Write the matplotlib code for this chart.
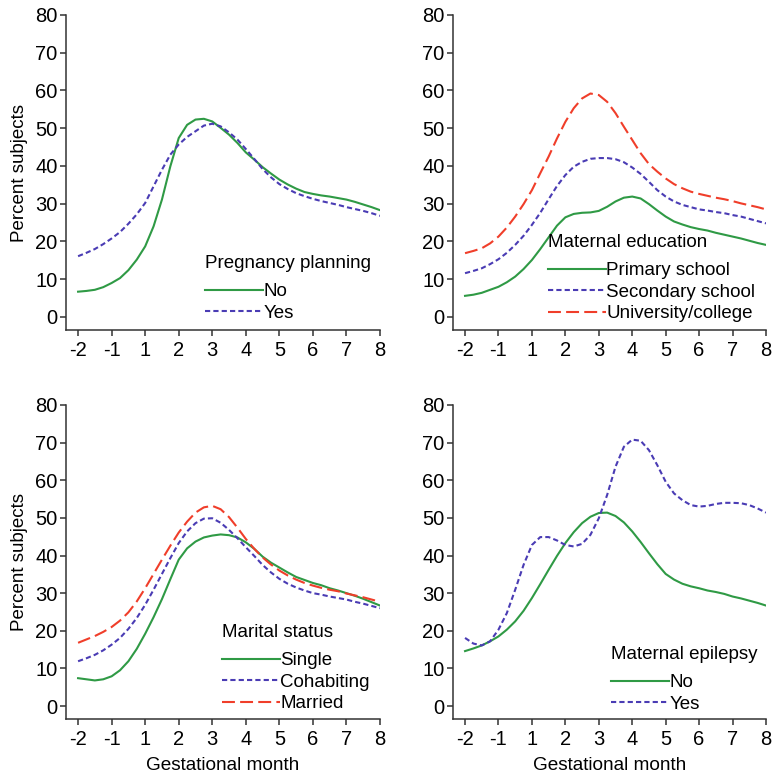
import matplotlib
matplotlib.use("Agg")
import matplotlib.pyplot as plt

plt.rcParams['font.family'] = ['Liberation Sans', 'DejaVu Sans']

# x positions (categorical axis: -2,-1,1,...,8 placed evenly, read every quarter step)
tick_labels = ['-2', '-1', '1', '2', '3', '4', '5', '6', '7', '8']
x_pos = [0, 0.25, 0.5, 0.75, 1, 1.25, 1.5, 1.75, 2, 2.25, 2.5, 2.75, 3, 3.25,
         3.5, 3.75, 4, 4.25, 4.5, 4.75, 5, 5.25, 5.5, 5.75, 6, 6.25, 6.5, 6.75,
         7, 7.25, 7.5, 7.75, 8, 8.25, 8.5, 8.75, 9]

# Panel 1: Pregnancy planning
plan_no = [6.7, 6.9, 7.2, 7.9, 9.0, 10.3, 12.4, 15.2, 18.7, 24.0, 31.1, 39.9, 47.4,
           50.9, 52.3, 52.5, 51.8, 50.1, 48.3, 46.1, 43.6, 41.7, 39.7, 38.0, 36.4, 35.1,
           34.0, 33.1, 32.6, 32.2, 31.9, 31.5, 31.1, 30.5, 29.8, 29.1, 28.3]
plan_yes = [16.1, 17.0, 18.0, 19.3, 20.8, 22.5, 24.7, 27.2, 30.2, 34.6, 39.0, 43.0, 45.7,
            47.7, 49.2, 50.7, 51.2, 50.5, 48.9, 47.0, 44.5, 41.9, 39.2, 37.0, 35.2, 33.9,
            32.8, 32.0, 31.3, 30.7, 30.2, 29.7, 29.1, 28.6, 28.1, 27.5, 26.8]

# Panel 2: Maternal education
edu_primary = [5.6, 5.9, 6.4, 7.2, 8.0, 9.2, 10.7, 12.7, 15.1, 18.0, 21.1, 24.2, 26.4,
               27.3, 27.6, 27.7, 28.1, 29.2, 30.6, 31.6, 31.9, 31.4, 29.9, 28.2, 26.6,
               25.3, 24.5, 23.8, 23.3, 22.9, 22.3, 21.8, 21.3, 20.8, 20.2, 19.6, 19.1]
edu_secondary = [11.6, 12.2, 12.9, 14.0, 15.3, 17.0, 19.1, 21.5, 24.4, 27.6, 31.2, 34.7,
                 37.6, 39.8, 41.1, 41.9, 42.1, 42.1, 41.8, 41.0, 39.6, 37.9, 35.8, 33.6,
                 31.9, 30.6, 29.7, 29.1, 28.5, 28.2, 27.8, 27.5, 27.0, 26.6, 26.0, 25.4,
                 24.8]
edu_university = [16.9, 17.5, 18.2, 19.5, 21.3, 23.7, 26.6, 29.9, 33.6, 38.1, 42.5, 47.3,
                  51.7, 55.3, 57.9, 59.2, 58.8, 57.0, 54.0, 50.4, 46.9, 43.4, 40.5, 38.5,
                  36.7, 35.2, 34.1, 33.2, 32.6, 32.1, 31.6, 31.2, 30.7, 30.1, 29.6, 29.1,
                  28.5]

# Panel 3: Marital status
mar_single = [7.4, 7.1, 6.8, 7.1, 7.9, 9.5, 11.9, 15.2, 19.2, 23.6, 28.4, 33.7, 38.9,
              41.9, 43.7, 44.8, 45.3, 45.6, 45.4, 44.8, 43.5, 41.8, 39.7, 38.1, 36.8,
              35.5, 34.3, 33.5, 32.7, 32.1, 31.3, 30.7, 30.0, 29.3, 28.5, 27.6, 26.7]
mar_cohab = [11.9, 12.7, 13.6, 14.8, 16.3, 18.1, 20.5, 23.4, 26.9, 30.9, 35.1, 39.3, 43.3,
             46.4, 48.6, 49.8, 49.9, 48.7, 46.8, 44.6, 42.2, 39.9, 37.5, 35.5, 33.8, 32.5,
             31.5, 30.7, 30.0, 29.6, 29.1, 28.7, 28.3, 27.7, 27.2, 26.6, 26.0]
mar_married = [16.8, 17.7, 18.6, 19.7, 21.0, 22.7, 24.9, 27.8, 31.3, 35.1, 38.9, 42.6,
               46.1, 49.0, 51.4, 52.8, 53.2, 52.3, 50.2, 47.4, 44.4, 41.8, 39.5, 37.6,
               36.0, 34.7, 33.6, 32.7, 32.0, 31.4, 30.9, 30.5, 29.9, 29.4, 28.9, 28.3,
               27.7]

# Panel 4: Maternal epilepsy
epi_no = [14.6, 15.3, 16.1, 17.2, 18.5, 20.3, 22.5, 25.3, 28.7, 32.4, 36.2, 39.9, 43.3,
          46.2, 48.6, 50.3, 51.3, 51.4, 50.5, 48.8, 46.4, 43.6, 40.6, 37.7, 35.1, 33.6,
          32.5, 31.8, 31.3, 30.7, 30.3, 29.8, 29.1, 28.6, 28.0, 27.4, 26.7]
epi_yes = [18.1, 16.6, 16.1, 17.2, 20.3, 24.7, 30.9, 37.5, 42.8, 44.9, 44.9, 44.0, 42.8,
           42.4, 43.1, 45.5, 49.9, 56.1, 63.6, 68.9, 70.8, 70.5, 68.0, 64.0, 59.6, 56.5,
           54.7, 53.4, 53.0, 53.2, 53.7, 54.0, 54.0, 53.9, 53.4, 52.5, 51.4]

GREEN = '#2f9a45'
BLUE = '#4a3cb4'
RED = '#f03e2a'
LW = 1.5
STY = {
    'solid': dict(color=GREEN, lw=LW, linestyle='-'),
    'short': dict(color=BLUE, lw=LW, linestyle=(0, (2.5, 1.5))),
    'long': dict(color=RED, lw=LW, linestyle=(0, (6.2, 2.5))),
}

panels = [
    dict(rect=[66, 15, 380, 330], title='Pregnancy planning',
         series=[(plan_no, 'No', 'solid'), (plan_yes, 'Yes', 'short')],
         leg=(205, 255), ylabel=True, xlabel=False),
    dict(rect=[453, 15, 766, 330], title='Maternal education',
         series=[(edu_primary, 'Primary school', 'solid'),
                 (edu_secondary, 'Secondary school', 'short'),
                 (edu_university, 'University/college', 'long')],
         leg=(548, 234), ylabel=False, xlabel=False),
    dict(rect=[66, 405, 380, 719], title='Marital status',
         series=[(mar_single, 'Single', 'solid'),
                 (mar_cohab, 'Cohabiting', 'short'),
                 (mar_married, 'Married', 'long')],
         leg=(222, 624), ylabel=True, xlabel=True),
    dict(rect=[453, 405, 766, 719], title='Maternal epilepsy',
         series=[(epi_no, 'No', 'solid'), (epi_yes, 'Yes', 'short')],
         leg=(611, 646), ylabel=False, xlabel=True),
]

W, H = 772, 780
fig = plt.figure(figsize=(W / 100, H / 100), dpi=100)

for p in panels:
    l, t, r, b = p['rect']
    ax = fig.add_axes([l / W, 1 - b / H, (r - l) / W, (b - t) / H])
    handles = []
    for ys, lab, st in p['series']:
        ln, = ax.plot(x_pos, ys, label=lab, **STY[st])
        handles.append(ln)
    ax.set_xlim(-0.36, 9)
    ax.set_ylim(-3.45, 80)
    ax.set_xticks(range(10))
    ax.set_xticklabels(tick_labels)
    ax.set_yticks(range(0, 81, 10))
    for s in ['top', 'right']:
        ax.spines[s].set_visible(False)
    for s in ['left', 'bottom']:
        ax.spines[s].set_linewidth(1.1)
        ax.spines[s].set_color('#333333')
    ax.tick_params(axis='both', direction='out', length=4, width=1.1,
                   color='#333333', labelsize=14.5, pad=2)
    ax.tick_params(axis='x', pad=4)
    if p['ylabel']:
        ax.set_ylabel('Percent subjects', fontsize=13.5, labelpad=5)
    if p['xlabel']:
        ax.set_xlabel('Gestational month', fontsize=13.7, labelpad=6)
    lx, ly = p['leg']
    leg = ax.legend(handles=handles, title=p['title'], loc='upper left',
                    bbox_to_anchor=((lx - l) / (r - l), (b - ly) / (b - t)),
                    frameon=False, fontsize=13.5, title_fontsize=13.5,
                    handlelength=3.1, handletextpad=0.0, borderpad=0.0,
                    borderaxespad=0.0, labelspacing=0.24, alignment='left')
    leg._legend_box.sep = 8

fig.savefig('out.png', dpi=100)
